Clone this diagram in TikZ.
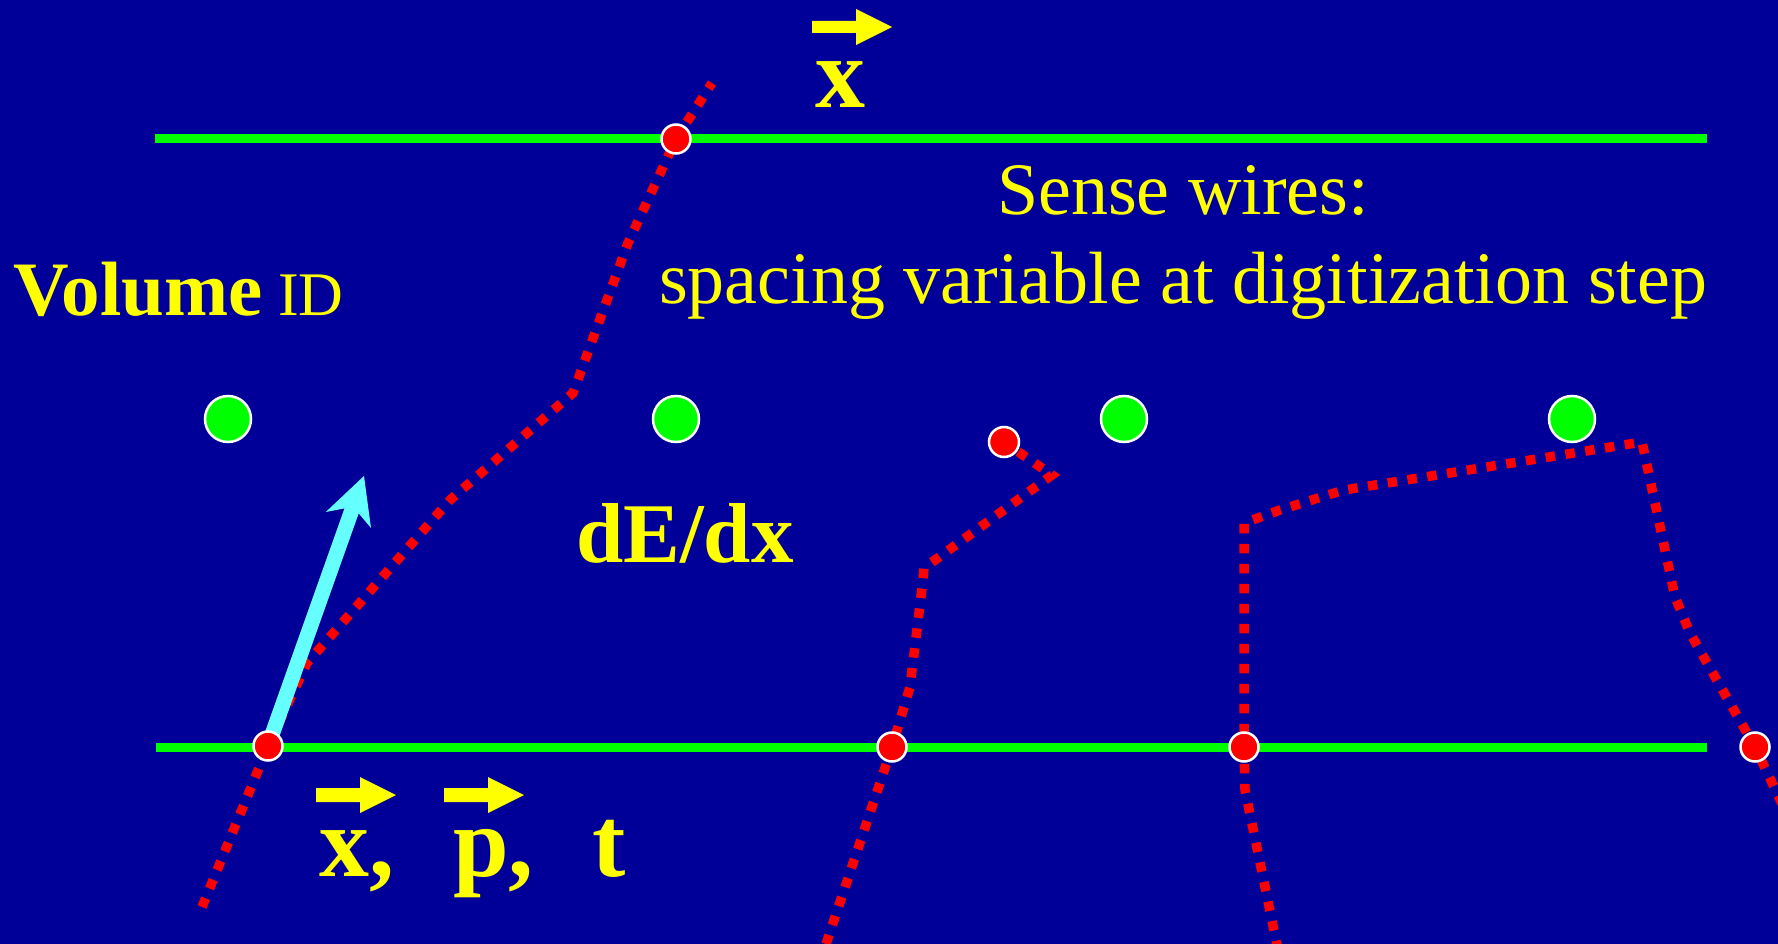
\documentclass[tikz,border=0pt]{standalone}
\usepackage{fontspec}
\setmainfont{Liberation Serif}
\definecolor{bgblue}{RGB}{0,0,153}
\definecolor{wiregreen}{RGB}{0,255,0}
\definecolor{hitred}{RGB}{255,0,0}
\definecolor{txtyellow}{RGB}{255,255,0}
\definecolor{momcyan}{RGB}{102,255,255}
\tikzset{
  plane/.style={draw=wiregreen, line width=9pt},
  track/.style={draw=hitred, line width=9.5pt, dash pattern=on 9.5pt off 10.5pt},
  hit/.style={circle, fill=hitred, draw=white, line width=2.5pt, minimum size=29pt, inner sep=0pt},
  sense/.style={circle, fill=wiregreen, draw=white, line width=2.5pt, minimum size=46pt, inner sep=0pt},
  lbl/.style={text=txtyellow, inner sep=0pt, anchor=base west},
  vecarrow/.style={fill=txtyellow},
}
\begin{document}
\begin{tikzpicture}[x=1pt,y=-1pt]
\useasboundingbox (0,0) rectangle (1778,944);
\fill[bgblue] (0,0) rectangle (1778,944);
\clip (0,0) rectangle (1778,944);

% planes
\coordinate (pt0) at (155,139);
\coordinate (pt1) at (1707,139);
\coordinate (pb0) at (156,747);
\coordinate (pb1) at (1707,747);
\draw[plane] (pt0) -- (pt1);
\draw[plane] (pb0) -- (pb1);

% hit positions
\coordinate (h1) at (268,746);
\coordinate (h2) at (676,139);
\coordinate (h3) at (892,747);
\coordinate (h4) at (1004,442);
\coordinate (h5) at (1244,747);
\coordinate (h6) at (1755,747);

% track ends
\coordinate (t1a) at (202,907);
\coordinate (t1b) at (712,83);
\coordinate (t2a) at (826,944);
\coordinate (t3a) at (1278,950);
\coordinate (t3b) at (1786,812);

% tracks
\draw[track] (t1a) -- (h1) -- (307,663) -- (450,500) -- (573,393) -- (607,300) -- (628,243) -- (h2) -- (t1b);
\draw[track] (t2a) -- (h3) -- (910,687) -- (922,588) -- (924,568) -- (1052,475) -- (h4);
\draw[track] (t3a) -- (1245,790) -- (h5) -- (1244,523) -- (1280,510) -- (1344,490) -- (1642,442) -- (1675,597) -- (1690,633) -- (h6) -- (t3b);

% momentum arrow
\fill[momcyan] (260.9,743.5) -- (344.5,508.4) -- (325.8,512.0) -- (364,476) -- (371.0,528.0) -- (358.7,513.4) -- (275.1,748.5) -- cycle;

% sense wires
\node[sense] (w1) at (228,419) {};
\node[sense] (w2) at (676,419) {};
\node[sense] (w3) at (1124,419) {};
\node[sense] (w4) at (1572,419) {};

% hits
\node[hit] (d1) at (h1) {};
\node[hit] (d2) at (h2) {};
\node[hit] (d3) at (h3) {};
\node[hit, minimum size=30pt] (d4) at (h4) {};
\node[hit] (d5) at (h5) {};
\node[hit] (d6) at (h6) {};

% texts
\node[lbl] (vol) at (13,315) {\fontsize{77}{80}\selectfont\bfseries Volume};
\node[lbl] (vid) at (278,315) {\fontsize{62}{66}\selectfont ID};
\node[text=txtyellow, inner sep=0pt, anchor=base] (sw1) at (1183,215) {\fontsize{74}{80}\selectfont Sense wires:};
\node[text=txtyellow, inner sep=0pt, anchor=base] (sw2) at (1183,303) {\fontsize{74}{80}\selectfont spacing variable at digitization step};
\node[lbl] (dedx) at (576,562) {\fontsize{85}{90}\selectfont\bfseries dE/dx};
\node[lbl] (xtop) at (815,108) {\fontsize{100}{100}\selectfont\bfseries x};
\node[lbl] (xb) at (319,876) {\fontsize{100}{100}\selectfont\bfseries x,};
\node[lbl] (pb) at (453,876) {\fontsize{100}{100}\selectfont\bfseries p,};
\node[lbl] (tb) at (592,876) {\fontsize{100}{100}\selectfont\bfseries t};

% vector arrows
\fill[vecarrow] (812,21) -- (856,21) -- (856,9) -- (892,27) -- (856,45) -- (856,33) -- (812,33) -- cycle;
\fill[vecarrow] (316,788) -- (360,788) -- (360,777) -- (396,795) -- (360,813) -- (360,802) -- (316,802) -- cycle;
\fill[vecarrow] (444,788) -- (488,788) -- (488,777) -- (524,795) -- (488,813) -- (488,802) -- (444,802) -- cycle;
\end{tikzpicture}
\end{document}
